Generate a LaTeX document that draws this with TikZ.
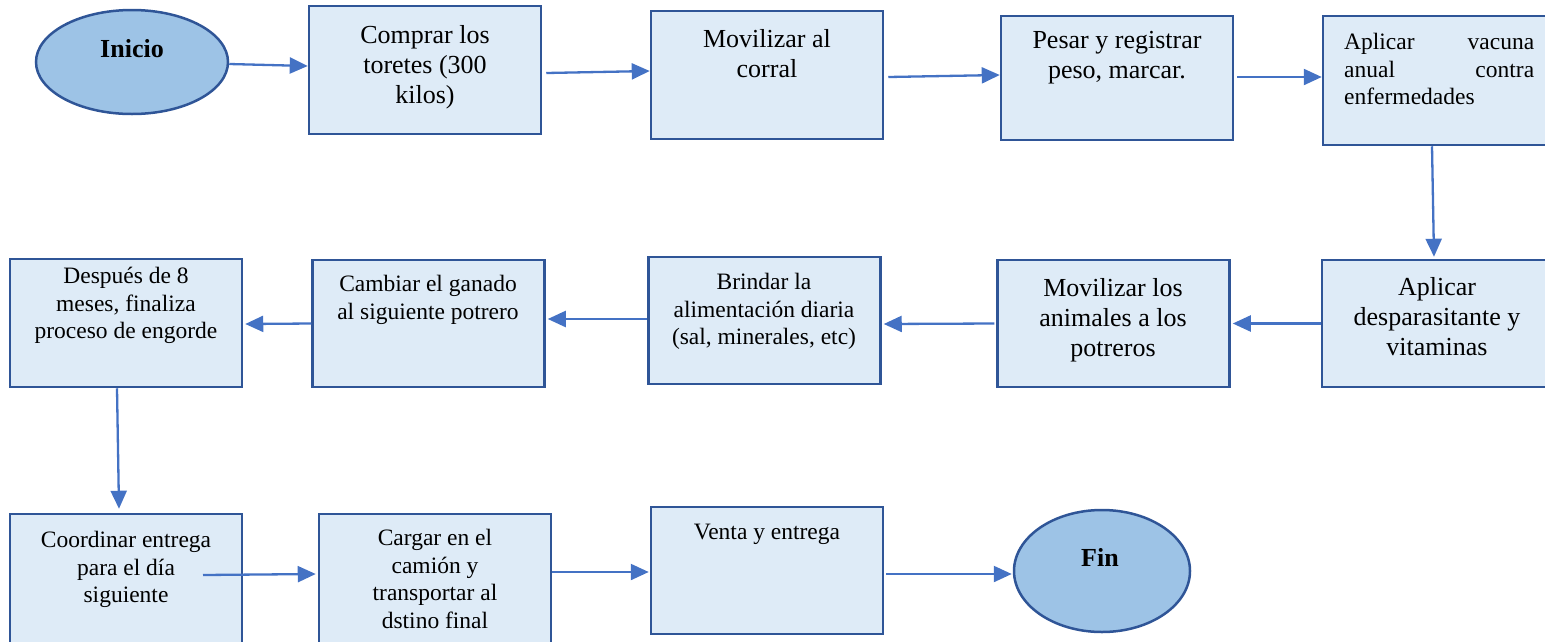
\documentclass[tikz,border=0pt]{standalone}
\usepackage{fontspec}
\setmainfont{Liberation Serif}
\usetikzlibrary{shapes.geometric,arrows.meta,calc}
\definecolor{boxfill}{HTML}{DEEBF7}
\definecolor{ovalfill}{HTML}{9DC3E6}
\definecolor{edgec}{HTML}{2F5597}
\definecolor{arrowc}{HTML}{4472C4}
\begin{document}
\begin{tikzpicture}[x=1pt,y=-1pt,
  stepbox/.style={draw=edgec, fill=boxfill, line width=2.5pt, minimum width=232pt, inner sep=0pt},
  oval/.style={ellipse, draw=edgec, fill=ovalfill, line width=2.5pt, inner sep=0pt},
  bigtxt/.style={align=center, anchor=north, inner sep=0pt, font=\fontsize{26}{30}\selectfont},
  smalltxt/.style={align=center, anchor=north, inner sep=0pt, font=\fontsize{23.5}{27.5}\selectfont},
  ovaltxt/.style={inner sep=0pt, font=\fontsize{26}{30}\selectfont\bfseries},
  flow/.style={draw=arrowc, line width=2.3pt, -{Triangle[length=18pt,width=16pt]}}]
\useasboundingbox (0,0) rectangle (1545,641);
\clip (0,0) rectangle (1545,641);

% shapes
\node[oval, minimum width=192pt, minimum height=104pt] (inicio) at (132,62) {};
\node[stepbox, minimum height=128pt] (b1) at (425,70) {};
\node[stepbox, minimum height=128pt] (b2) at (767,75) {};
\node[stepbox, minimum height=124pt] (b3) at (1117,78) {};
\node[stepbox, minimum height=129pt] (b4) at (1439,80.5) {};
\node[stepbox, minimum height=127pt] (b5) at (1438,323.5) {};
\node[stepbox, minimum height=127pt] (b6) at (1113.5,323.5) {};
\node[stepbox, minimum height=127pt] (b7) at (764.5,320.5) {};
\node[stepbox, minimum height=127pt] (b8) at (428.5,323.5) {};
\node[stepbox, minimum height=128pt] (b9) at (126,323) {};
\node[stepbox, minimum height=132pt] (b10) at (126,580) {};
\node[stepbox, minimum height=132pt] (b11) at (435,580) {};
\node[stepbox, minimum height=127pt] (b12) at (767,570.5) {};
\node[oval, minimum width=176pt, minimum height=122pt] (fin) at (1102,571) {};

% texts
\node[ovaltxt] (tinicio) at (132,49) {Inicio};
\node[ovaltxt] (tfin) at (1100,557) {Fin};
\node[bigtxt] (t1) at (425,25) {Comprar los\\toretes (300\\kilos)};
\node[bigtxt] (t2) at (767,29) {Movilizar al\\corral};
\node[bigtxt] (t3) at (1117,31) {Pesar y registrar\\peso, marcar.};
\node[smalltxt, anchor=north west, align=left] (t4) at (1344,33)
  {\makebox[190pt][l]{Aplicar\hfill vacuna}\\\makebox[190pt][l]{anual\hfill contra}\\enfermedades};
\node[bigtxt] (t5) at (1437,277) {Aplicar\\desparasitante y\\vitaminas};
\node[bigtxt] (t6) at (1113,278) {Movilizar los\\animales a los\\potreros};
\node[smalltxt] (t7) at (764,273) {Brindar la\\alimentación diaria\\(sal, minerales, etc)};
\node[smalltxt] (t8) at (428,275) {Cambiar el ganado\\al siguiente potrero};
\node[smalltxt] (t9) at (126,267) {Después de 8\\meses, finaliza\\proceso de engorde};
\node[smalltxt] (t10) at (126,531) {Coordinar entrega\\para el día\\siguiente};
\node[smalltxt] (t11) at (435,529) {Cargar en el\\camión y\\transportar al\\dstino final};
\node[smalltxt] (t12) at (767,524) {Venta y entrega};

% connectors
\draw[flow] ($(inicio.east)+(0,2)$) -- ($(b1.west)+(0,-4)$);
\draw[flow] ($(b1.east)+(4,3)$) -- ($(b2.west)+(0,-4)$);
\draw[flow] ($(b2.east)+(4,2)$) -- ($(b3.west)+(0,-3)$);
\draw[flow] ($(b3.east)+(3,-1)$) -- ($(b4.west)+(0,-3.5)$);
\draw[flow] ($(b4.south)+(-7,0)$) -- ($(b5.north)+(-4,-2)$);
\draw[flow] (b5.west) -- ($(b6.east)+(2,0)$);
\draw[flow] ($(b6.west)+(-2,0)$) -- ($(b7.east)+(2,3.5)$);
\draw[flow] ($(b7.west)+(0,-1.5)$) -- ($(b8.east)+(2,-4.5)$);
\draw[flow] (b8.west) -- ($(b9.east)+(2,1)$);
\draw[flow] ($(b9.south)+(-9,0)$) -- ($(b10.north)+(-7,-4)$);
\draw[flow] ($(b10.center)+(77,-5)$) -- ($(b11.west)+(-2,-6)$);
\draw[flow] ($(b11.east)+(0,-8)$) -- ($(b12.west)+(-1,1.5)$);
\draw[flow] ($(b12.east)+(2,3.5)$) -- ($(fin.west)+(-1,3)$);
\end{tikzpicture}
\end{document}
